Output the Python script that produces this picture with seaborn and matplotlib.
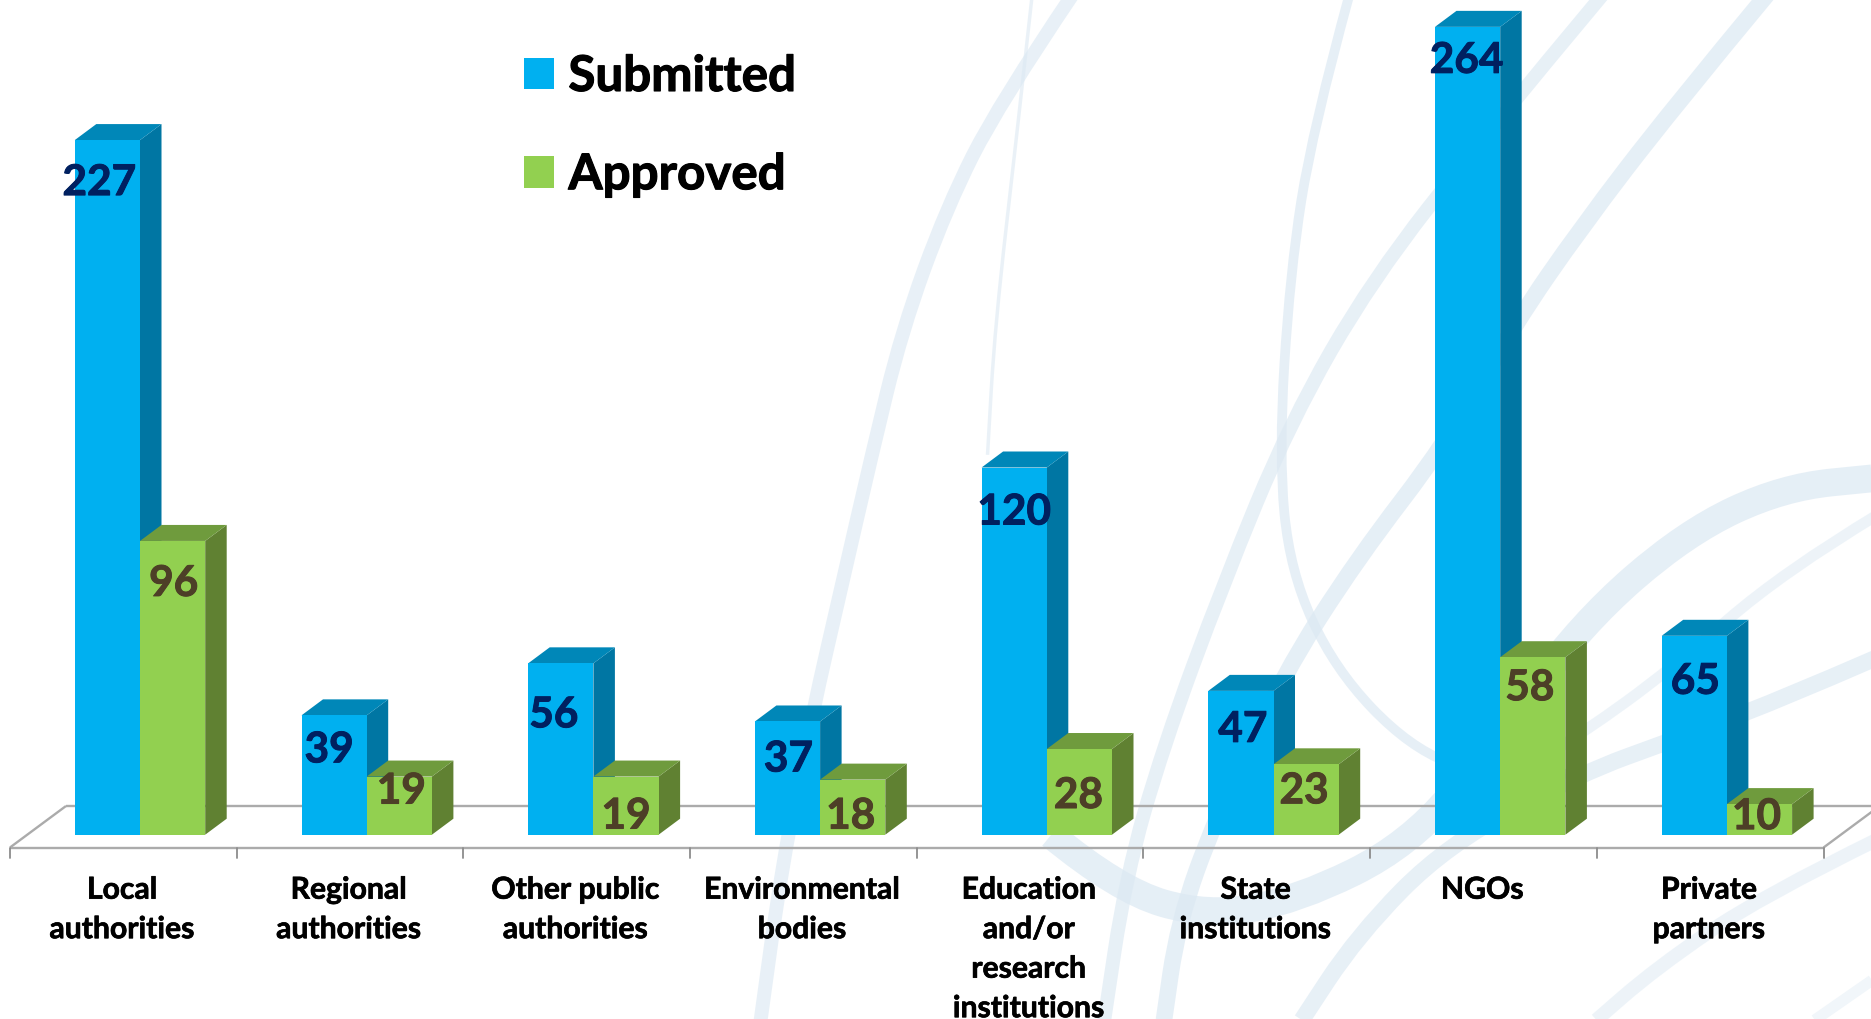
import numpy as np
import pandas as pd
import matplotlib
matplotlib.use("Agg")
import matplotlib.pyplot as plt
import matplotlib.patheffects as pe
import seaborn as sns
from matplotlib.patches import Polygon, PathPatch
from matplotlib.path import Path
from matplotlib.transforms import Affine2D

categories = ["Local\nauthorities", "Regional\nauthorities", "Other public\nauthorities",
              "Environmental\nbodies", "Education\nand/or\nresearch\ninstitutions",
              "State\ninstitutions", "NGOs", "Private\npartners"]
submitted = [227, 39, 56, 37, 120, 47, 264, 65]
approved = [96, 19, 19, 18, 28, 23, 58, 10]

W, H = 1871, 1019
sns.set_theme(style="white")
plt.rcParams["font.family"] = ["Lato", "DejaVu Sans"]
plt.rcParams["font.weight"] = "bold"
plt.rcParams["text.color"] = "black"

BLUE, BLUE_SIDE, BLUE_TOP = "#00B0F0", "#0076A3", "#0087B8"
GREEN, GREEN_SIDE, GREEN_TOP = "#92D050", "#608132", "#6F9B3D"
NAVY, BROWN = "#002060", "#4D3F27"

BASE_PX = 834.7
PX_PER_UNIT = 3.06
PX_PER_CAT = 226.7
X0_PX = 140.0

fig = plt.figure(figsize=(W / 100, H / 100), dpi=100, facecolor="white")
ax = fig.add_axes([0, (H - BASE_PX) / H, 1, BASE_PX / H])
ax.patch.set_alpha(0)

# faint decorative swirls in the background (zoom-crop coordinates)
to_px = Affine2D().scale(1 / 1.339, 1 / 1.539).translate(700, 0).scale(1, -1).translate(0, H)
swirls = [
    ([(500, -10), (400, 160), (330, 320), (270, 510), (230, 700), (190, 900), (150, 1100), (110, 1330), (80, 1580)], 10, 0.65),
    ([(445, -10), (425, 200), (395, 500), (385, 700)], 2.5, 0.6),
    ([(870, -10), (820, 200), (790, 420), (775, 700), (790, 880), (850, 1030), (950, 1150), (1050, 1195), (1180, 1190)], 7, 0.7),
    ([(470, 1285), (560, 1370), (680, 1410), (800, 1385), (950, 1300), (1060, 1150), (1180, 960), (1320, 820), (1450, 750), (1580, 735)], 20, 0.72),
    ([(1430, -10), (1300, 170), (1180, 350), (1090, 500), (1000, 680), (880, 860), (780, 1040), (690, 1260), (640, 1420), (620, 1580)], 12, 0.72),
    ([(1210, -10), (1050, 210), (900, 430), (790, 650), (700, 900), (620, 1150), (570, 1350), (540, 1580)], 10, 0.68),
    ([(1580, 1010), (1440, 1080), (1300, 1140), (1180, 1190), (1000, 1300), (880, 1440), (800, 1580)], 12, 0.68),
    ([(1580, 790), (1450, 880), (1300, 1030), (1180, 1130), (1080, 1200)], 8, 0.5),
    ([(1580, 1290), (1420, 1380), (1280, 1490), (1190, 1580)], 10, 0.5),
    ([(1580, 1500), (1480, 1580)], 8, 0.4),
]
for pts, lw, alpha in swirls:
    pts = np.array(pts, float)
    verts, codes = [pts[0]], [Path.MOVETO]
    for a, b in zip(pts[1:-1], pts[2:]):
        verts += [a, (a + b) / 2]
        codes += [Path.CURVE3, Path.CURVE3]
    verts.append(pts[-1])
    codes.append(Path.LINETO)
    fig.add_artist(PathPatch(Path(verts, codes), transform=to_px, fill=False,
                             edgecolor="#DCE9F3", alpha=alpha, lw=lw, capstyle="butt", zorder=-5))

df = pd.DataFrame({
    "category": categories * 2,
    "value": submitted + approved,
    "status": ["Submitted"] * len(categories) + ["Approved"] * len(categories),
})
sns.barplot(data=df, x="category", y="value", hue="status", order=categories,
            hue_order=["Submitted", "Approved"], palette={"Submitted": BLUE, "Approved": GREEN},
            width=130.4 / PX_PER_CAT, gap=0, saturation=1, linewidth=0, ax=ax, zorder=3)

ax.set_xlim(-X0_PX / PX_PER_CAT, (W - X0_PX) / PX_PER_CAT)
ax.set_ylim(0, BASE_PX / PX_PER_UNIT)
ax.set_xlabel("")
ax.set_ylabel("")
ax.set_yticks([])
for s in ax.spines.values():
    s.set_visible(False)

# pseudo-3D sides and tops derived from each bar's own geometry
dx = 21.5 / PX_PER_CAT
dy = 16 / PX_PER_UNIT
n = len(categories)
bars = [p for p in ax.patches if p.get_height() > 0]
for k, bar in enumerate(bars):
    x0, x1, h = bar.get_x(), bar.get_x() + bar.get_width(), bar.get_height()
    blue = k < n
    side, top = (BLUE_SIDE, BLUE_TOP) if blue else (GREEN_SIDE, GREEN_TOP)
    z = 2 if blue else 4
    bar.set_zorder(z + 1)
    ax.add_patch(Polygon([(x1, 0), (x1 + dx, dy), (x1 + dx, h + dy), (x1, h)], fc=side, ec="none", zorder=z))
    ax.add_patch(Polygon([(x0, h), (x0 + dx, h + dy), (x1 + dx, h + dy), (x1, h)], fc=top, ec="none", zorder=z))

# floor
floor_front = -(847.5 - BASE_PX) / PX_PER_UNIT
floor_back = (BASE_PX - 806) / PX_PER_UNIT
tick_low = -(858 - BASE_PX) / PX_PER_UNIT
edges = np.arange(n + 1) - 0.5735
back_shift = 56 / PX_PER_CAT
grey = "#ABABAB"
line_kw = dict(color=grey, lw=1.7, clip_on=False, zorder=1, solid_capstyle="butt")
ax.plot([edges[0] + back_shift, edges[-1] + back_shift], [floor_back, floor_back], **line_kw)
ax.plot([edges[0], edges[0] + back_shift], [floor_front, floor_back], **line_kw)
ax.plot([edges[-1], edges[-1] + back_shift], [floor_front, floor_back], **line_kw)
ax.plot([edges[0], edges[-1]], [floor_front, floor_front], **line_kw)
for e in edges:
    ax.plot([e, e], [floor_front, tick_low], color="#8C8C8C", lw=1.3, clip_on=False, zorder=1)

# category labels
ax.set_xticks(np.arange(n) - 18 / PX_PER_CAT)
ax.set_xticklabels(categories, fontsize=21.7, fontweight="bold", color="black", linespacing=1.5,
                   path_effects=[pe.withStroke(linewidth=0.5, foreground="black")])
ax.tick_params(axis="x", length=0, pad=29.5)

# value labels, nudged by hand as in the original slide (dx px, px below the top)
blue_nudge = [(-8, 43), (-5, 35), (-7, 52), (1, 38), (0, 45), (2, 39), (-1, 34), (1, 46)]
green_nudge = [(1, 43), (2, 15), (0, 40), (-2, 37), (-1, 47), (-2, 27), (-3, 31), (-3, 13)]
nudges = blue_nudge + green_nudge
for k, bar in enumerate(bars):
    cx = bar.get_x() + bar.get_width() / 2
    color = NAVY if k < n else BROWN
    ax.annotate(f"{bar.get_height():.0f}", (cx, bar.get_height()),
                xytext=(nudges[k][0] * 0.72, -nudges[k][1] * 0.72), textcoords="offset points",
                ha="center", va="center", fontsize=30.5, fontweight="bold",
                color=color, zorder=10, annotation_clip=False,
                path_effects=[pe.withStroke(linewidth=0.7, foreground=color)])

# legend
sns.move_legend(ax, loc="upper left", bbox_to_anchor=(523.5 / W, 1 - 54 / BASE_PX), title=None,
                frameon=False, fontsize=35.5, handlelength=0.61, handleheight=0.61,
                handletextpad=0.30, labelspacing=1.08, borderaxespad=0, borderpad=0)
for t in ax.get_legend().get_texts():
    t.set_path_effects([pe.withStroke(linewidth=0.8, foreground="black")])

fig.savefig("out.png", dpi=100)
